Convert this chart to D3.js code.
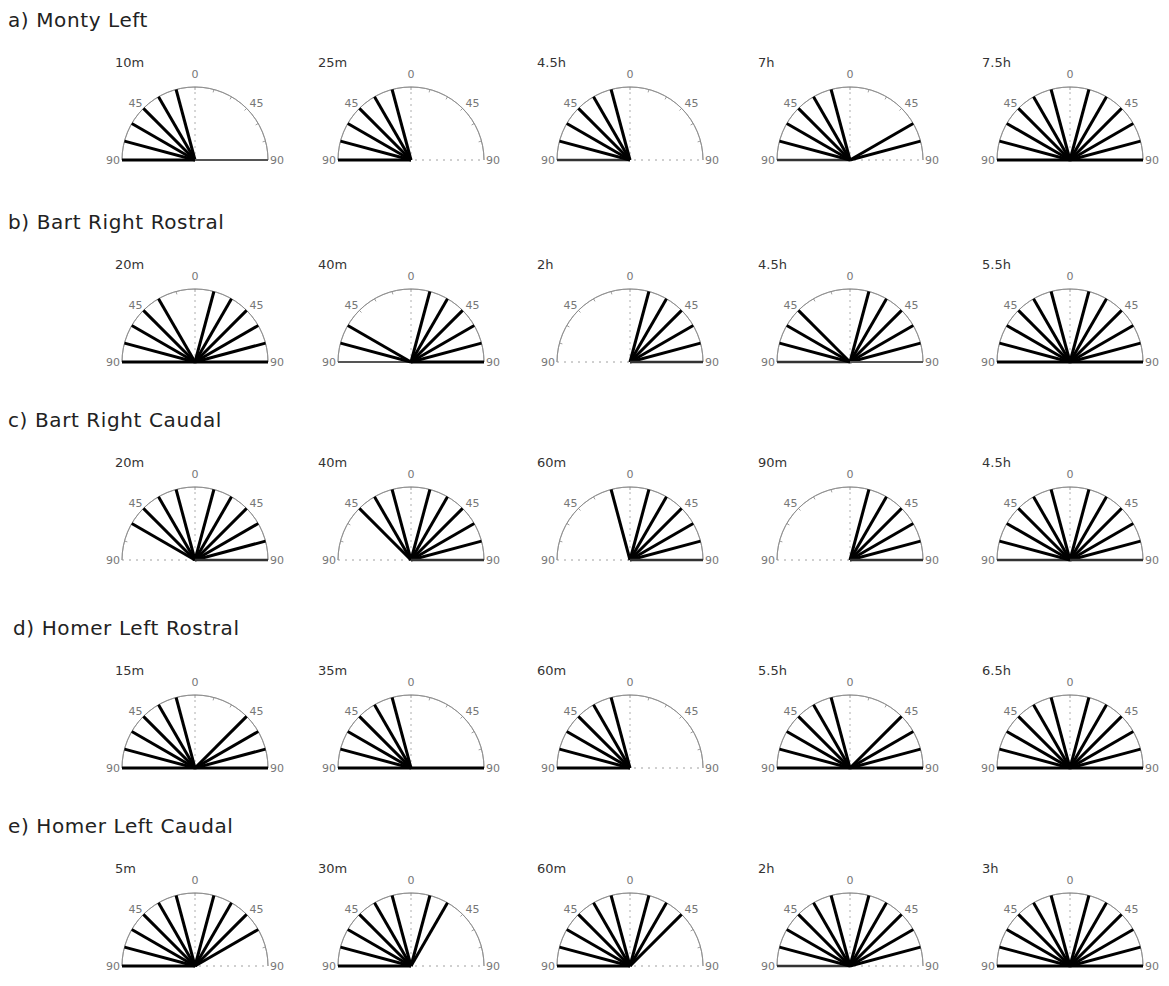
<!DOCTYPE html>
<html>
<head>
<meta charset="utf-8">
<script src="https://cdn.jsdelivr.net/npm/d3@7"></script>
<style>
  body { margin: 0; background: #fff; }
  svg { display: block; }
</style>
</head>
<body>
<div id="chart"></div>
<script>
// spoke angles, degrees from vertical (negative = left)
const angles = [-90, -75, -60, -45, -30, -15, 0, 15, 30, 45, 60, 75, 90];
const tickLabels = [-90, -45, 0, 45, 90];

const rowTitles = ["a) Monty Left", "b) Bart Right Rostral", "c) Bart Right Caudal",
                   "d) Homer Left Rostral", "e) Homer Left Caudal"];

const montyLeftTimes = ["10m", "25m", "4.5h", "7h", "7.5h"];
const bartRostralTimes = ["20m", "40m", "2h", "4.5h", "5.5h"];
const bartCaudalTimes = ["20m", "40m", "60m", "90m", "4.5h"];
const homerRostralTimes = ["15m", "35m", "60m", "5.5h", "6.5h"];
const homerCaudalTimes = ["5m", "30m", "60m", "2h", "3h"];

// response strength per angle (0 = none)
const montyLeft = [
    [1, 1, 1, 1, 1, 1, 0, 0, 0, 0, 0, 0, 0.5],
    [1, 1, 1, 1, 1, 1, 0, 0, 0, 0, 0, 0, 0],
    [0.7, 1, 1, 1, 1, 1, 0, 0, 0, 0, 0, 0, 0],
    [0.7, 1, 1, 1, 1, 1, 0, 0, 0, 0, 1, 1, 0],
    [1, 1, 1, 1, 1, 1, 0, 1, 1, 1, 1, 1, 1]
];
const bartRostral = [
    [1, 1, 1, 1, 1, 0, 0, 1, 1, 1, 1, 1, 1],
    [0.5, 1, 1, 0, 0, 0, 0, 1, 1, 1, 1, 1, 1],
    [0, 0, 0, 0, 0, 0, 0, 1, 1, 1, 1, 1, 0.7],
    [0.7, 1, 1, 1, 0, 0, 0, 1, 1, 1, 1, 1, 0.5],
    [1, 1, 1, 1, 1, 1, 0, 1, 1, 1, 1, 1, 1]
];
const bartCaudal = [
    [0, 0, 1, 1, 1, 1, 0, 1, 1, 1, 1, 1, 0.7],
    [0, 0, 0, 1, 1, 1, 0, 1, 1, 1, 1, 1, 0.7],
    [0, 0, 0, 0, 0, 1, 0, 1, 1, 1, 1, 1, 0.7],
    [0, 0, 0, 0, 0, 0, 0, 1, 1, 1, 1, 1, 0.7],
    [0.7, 1, 1, 1, 1, 1, 0, 1, 1, 1, 1, 1, 0.7]
];
const homerRostral = [
    [1, 1, 1, 1, 1, 1, 0, 0, 0, 1, 1, 1, 1],
    [1, 1, 1, 1, 1, 1, 0, 0, 0, 0, 0, 0, 1],
    [1, 1, 1, 1, 1, 1, 0, 0, 0, 0, 0, 0, 0],
    [1, 1, 1, 1, 1, 1, 0, 0, 0, 1, 1, 1, 1],
    [1, 1, 1, 1, 1, 1, 0, 1, 1, 1, 1, 1, 1]
];
const homerCaudal = [
    [1, 1, 1, 1, 1, 1, 0, 1, 1, 1, 1, 0, 0],
    [1, 1, 1, 1, 1, 1, 0, 1, 1, 0, 0, 0, 0],
    [1, 1, 1, 1, 1, 1, 0, 1, 1, 1, 0, 0, 0],
    [0.7, 1, 1, 1, 1, 1, 0, 1, 1, 1, 1, 1, 0],
    [1, 1, 1, 1, 1, 1, 0, 1, 1, 1, 1, 1, 1]
];

const rows = [
    { title: rowTitles[0], times: montyLeftTimes, values: montyLeft },
    { title: rowTitles[1], times: bartRostralTimes, values: bartRostral },
    { title: rowTitles[2], times: bartCaudalTimes, values: bartCaudal },
    { title: rowTitles[3], times: homerRostralTimes, values: homerRostral },
    { title: rowTitles[4], times: homerCaudalTimes, values: homerCaudal }
];

const width = 1169, height = 986;
const radius = 73;
const rowBase = [160, 362, 560, 768, 966];
const colCenter = [195, 411, 630, 850, 1070];
const timeX = [115, 318, 537, 758, 982];
const titleX = [8, 8, 8, 13, 8];
const font = "'DejaVu Sans', sans-serif";

const svg = d3.select("#chart").append("svg")
    .attr("width", width)
    .attr("height", height);

const ang = d3.scaleLinear().domain([-90, 90]).range([-Math.PI / 2, Math.PI / 2]);
const len = d3.scaleLinear().domain([0, 1]).range([0, radius]);
const strokeW = d3.scaleLinear().domain([0.5, 1]).range([1.8, 3]);
const strokeC = d3.scaleLinear().domain([0.5, 1]).range(["#555", "#000"]);

const px = (a, r) => r * Math.sin(ang(a));
const py = (a, r) => -r * Math.cos(ang(a));

const arc = d3.arc()
    .innerRadius(radius)
    .outerRadius(radius)
    .startAngle(ang(-90))
    .endAngle(ang(90));

rows.forEach((row, ri) => {
    svg.append("text")
        .attr("x", titleX[ri])
        .attr("y", rowBase[ri] - 133)
        .attr("font-family", font)
        .attr("font-size", 20)
        .attr("letter-spacing", 0.6)
        .attr("fill", "#222")
        .text(row.title);

    row.values.forEach((vals, ci) => {
        const g = svg.append("g")
            .attr("transform", `translate(${colCenter[ci]},${rowBase[ri]})`);

        // frame
        g.append("path").attr("d", arc())
            .attr("fill", "none").attr("stroke", "#888").attr("stroke-width", 0.8);
        g.append("line")
            .attr("x1", px(-90, radius)).attr("y1", 0)
            .attr("x2", px(90, radius)).attr("y2", 0)
            .attr("stroke", "#888").attr("stroke-width", 0.8)
            .attr("stroke-dasharray", "2,5");
        g.append("line")
            .attr("x1", 0).attr("y1", 0)
            .attr("x2", 0).attr("y2", py(0, radius))
            .attr("stroke", "#999").attr("stroke-width", 0.8)
            .attr("stroke-dasharray", "2,4");

        g.selectAll(".tick")
            .data(angles.slice(1, -1))
            .join("line")
            .attr("x1", d => px(d, radius))
            .attr("y1", d => py(d, radius))
            .attr("x2", d => px(d, radius - 3))
            .attr("y2", d => py(d, radius - 3))
            .attr("stroke", "#888").attr("stroke-width", 0.8);

        // tick labels
        g.selectAll(".lab")
            .data(tickLabels)
            .join("text")
            .attr("font-family", font)
            .attr("font-size", 11)
            .attr("fill", "#777")
            .attr("x", d => d === 0 ? 0 : d === -90 ? px(d, radius) - 2 : d === 90 ? px(d, radius) + 2 : d < 0 ? px(d, radius) - 1 : px(d, radius) + 3)
            .attr("y", d => d === 0 ? py(d, radius) - 9 : Math.abs(d) === 90 ? 4 : py(d, radius) - 1)
            .attr("text-anchor", d => d === 0 ? "middle" : d < 0 ? "end" : "start")
            .text(d => Math.abs(d));

        // spokes
        const data = angles.map((a, i) => ({ a, v: vals[i] })).filter(d => d.v > 0);
        g.selectAll(".spoke")
            .data(data)
            .join("line")
            .attr("x1", 0).attr("y1", 0)
            .attr("x2", d => px(d.a, len(1)))
            .attr("y2", d => py(d.a, len(1)))
            .attr("stroke", d => strokeC(d.v))
            .attr("stroke-width", d => strokeW(d.v))
            .attr("stroke-linecap", "butt");

        g.append("text")
            .attr("x", timeX[ci] - colCenter[ci])
            .attr("y", -93)
            .attr("font-family", font)
            .attr("font-size", 13)
            .attr("fill", "#333")
            .text(row.times[ci]);
    });
});
</script>
</body>
</html>
